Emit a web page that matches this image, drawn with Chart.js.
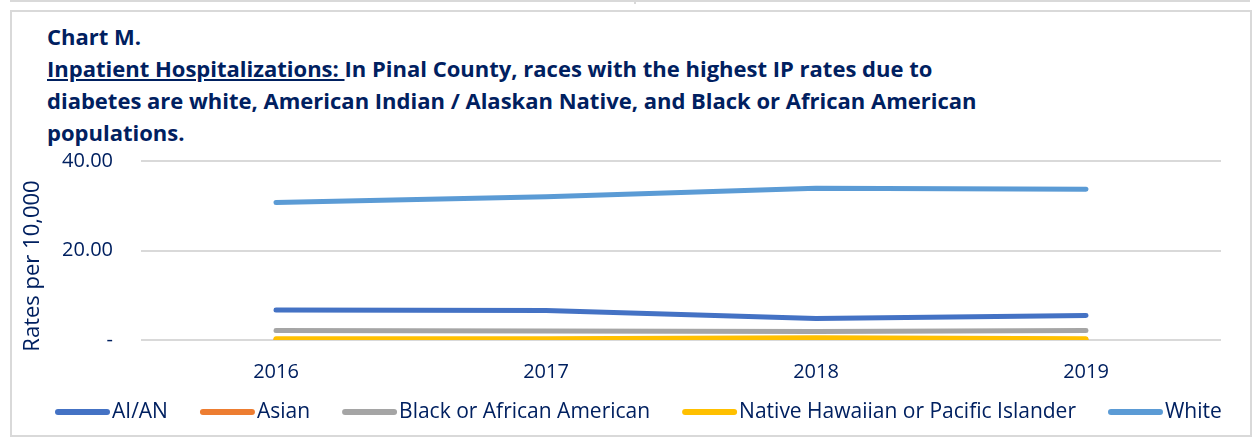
<!DOCTYPE html>
<html>
<head>
<meta charset="utf-8">
<script src="https://cdn.jsdelivr.net/npm/chart.js@4.4.1/dist/chart.umd.min.js"></script>
<style>
  html, body { margin: 0; padding: 0; background: #fff; }
  body { width: 1256px; height: 441px; position: relative; overflow: hidden; font-family: "Open Sans", sans-serif; }
  #topbox { position: absolute; left: 10px; top: -20px; width: 1240px; height: 22px; border: 2px solid #d9d9d9; box-sizing: border-box; }
  #topdiv { position: absolute; left: 634px; top: 0; width: 2px; height: 4px; background: #d9d9d9; }
  #card { position: absolute; left: 10px; top: 10px; width: 1242px; height: 427px; border: 2px solid #d9d9d9; box-sizing: border-box; }
  #title { position: absolute; left: 47px; top: 20px; color: #002060; font-weight: bold; font-size: 22px; line-height: 32px; white-space: nowrap; }
  #title u { text-decoration: underline; }
  canvas { position: absolute; left: 0; top: 0; }
</style>
</head>
<body>
<div id="topbox"></div>
<div id="topdiv"></div>
<div id="card"></div>
<div id="title">Chart M.<br><u>Inpatient Hospitalizations: </u>In Pinal County, races with the highest IP rates due to<br>diabetes are white, American Indian / Alaskan Native, and Black or African American<br>populations.</div>
<canvas id="c" width="1256" height="441"></canvas>
<script>
const years = ["2016", "2017", "2018", "2019"];
const seriesNames = ["AI/AN", "Asian", "Black or African American", "Native Hawaiian or Pacific Islander", "White"];
const aian = [6.7, 6.6, 4.8, 5.5];
const asian = [0.1, 0.1, 0.3, 0.1];
const black = [2.1, 2.0, 1.9, 2.1];
const nhpi = [0.3, 0.3, 0.5, 0.3];
const white = [30.7, 32.0, 33.9, 33.7];
const colors = ["#4472C4", "#ED7D31", "#A5A5A5", "#FFC000", "#5B9BD5"];
const yTicks = [0, 20, 40];
const yTitle = "Rates per 10,000";
const navy = "#002060";
const FONT = "'Open Sans', sans-serif";

const values = [aian, asian, black, nhpi, white];
const datasets = seriesNames.map((n, i) => ({
  label: n,
  data: values[i],
  borderColor: colors[i],
  backgroundColor: colors[i],
  borderWidth: 5,
  borderCapStyle: 'round',
  borderJoinStyle: 'round',
  pointRadius: 0,
  tension: 0,
  fill: false,
  order: i === 3 ? 0 : (i === 1 ? 1 : 2)
}));

const extras = {
  id: 'extras',
  afterDraw(chart) {
    const ctx = chart.ctx;
    ctx.save();
    // legend
    const y = 412;
    let x = 55;
    ctx.font = "21px " + FONT;
    ctx.textBaseline = 'middle';
    ctx.textAlign = 'left';
    chart.data.datasets.forEach(ds => {
      ctx.strokeStyle = ds.borderColor;
      ctx.lineWidth = 6;
      ctx.lineCap = 'round';
      ctx.beginPath();
      ctx.moveTo(x + 3, y);
      ctx.lineTo(x + 52, y);
      ctx.stroke();
      ctx.fillStyle = navy;
      ctx.fillText(ds.label, x + 57, y);
      x += 57 + ctx.measureText(ds.label).width + 32;
    });
    // y axis title
    ctx.translate(33, 266);
    ctx.rotate(-Math.PI / 2);
    ctx.textAlign = 'center';
    ctx.font = "22px " + FONT;
    ctx.fillStyle = navy;
    ctx.fillText(yTitle, 0, 0);
    ctx.restore();
  }
};

new Chart(document.getElementById('c'), {
  type: 'line',
  data: { labels: years, datasets: datasets },
  plugins: [extras],
  options: {
    responsive: false,
    animation: false,
    layout: { padding: { left: 14, right: 35, top: 161, bottom: 41 } },
    plugins: {
      title: { display: false },
      tooltip: { enabled: false },
      legend: { display: false }
    },
    scales: {
      x: {
        offset: true,
        grid: { display: false },
        border: { display: false },
        afterFit: (s) => { s.height = 60; },
        ticks: { color: navy, padding: 12, autoSkip: false, maxRotation: 0, font: { family: FONT, size: 20 } }
      },
      y: {
        min: 0, max: 40,
        afterBuildTicks: (s) => { s.ticks = yTicks.map(v => ({ value: v })); },
        afterFit: (s) => { s.width = 127; },
        grid: { color: '#d9d9d9', lineWidth: 2, drawTicks: false },
        border: { display: false },
        ticks: {
          color: navy, padding: 28,
          font: { family: FONT, size: 20 },
          callback: (v) => v === 0 ? '-' : v.toFixed(2)
        },
        title: { display: false }
      }
    }
  }
});
</script>
</body>
</html>
